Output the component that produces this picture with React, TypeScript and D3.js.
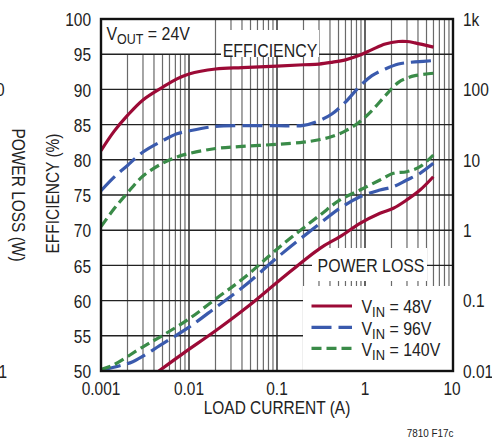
import React from "react";
import * as d3 from "d3";

const effCurrent = [0.001, 0.0014, 0.002, 0.003, 0.005, 0.0073, 0.01, 0.02, 0.04, 0.1, 0.2, 0.3, 0.42, 0.6, 0.85, 1.2, 1.7, 2.4, 3, 3.7, 6];
const eff48 = [81.3, 84.0, 86.3, 88.5, 90.3, 91.5, 92.2, 92.9, 93.1, 93.3, 93.5, 93.6, 93.85, 94.2, 94.8, 95.65, 96.45, 96.8, 96.8, 96.6, 96.0];
const eff96 = [75.6, 77.5, 79.2, 81.1, 82.7, 83.7, 84.1, 84.75, 84.85, 84.85, 84.9, 85.55, 86.5, 88.2, 90.3, 91.95, 92.9, 93.6, 93.8, 93.9, 94.1];
const eff140 = [70.5, 73.0, 75.3, 77.7, 79.5, 80.4, 80.9, 81.6, 81.9, 82.2, 82.5, 82.85, 83.3, 84.1, 85.3, 87.0, 89.1, 91.0, 91.6, 91.95, 92.3];

const loss48Current = [0.0045, 0.0086, 0.0206, 0.049, 0.108, 0.308, 0.52, 0.877, 1.48, 2.1, 2.98, 4.22, 5.97];
const loss48 = [0.0099, 0.0178, 0.0382, 0.0866, 0.196, 0.553, 0.81, 1.25, 1.74, 2.05, 2.69, 3.72, 5.75];
const loss96Current = [0.001, 0.0016, 0.0023, 0.0051, 0.0102, 0.0206, 0.0415, 0.108, 0.308, 0.52, 0.877, 1.48, 2.1, 2.98, 4.22, 5.97];
const loss96 = [0.0103, 0.0118, 0.01355, 0.0247, 0.0426, 0.0818, 0.157, 0.44, 1.25, 2.05, 2.99, 3.72, 4.15, 5.16, 6.43, 8.9];
const loss140Current = [0.001, 0.00138, 0.003, 0.0051, 0.0102, 0.0206, 0.0415, 0.108, 0.308, 0.52, 0.877, 1.48, 2.1, 2.98, 4.22, 5.97];
const loss140 = [0.0105, 0.01216, 0.0221, 0.0324, 0.056, 0.108, 0.207, 0.583, 1.64, 2.69, 3.72, 5.16, 6.43, 6.78, 7.98, 11.7];

const xTicks = [0.001, 0.01, 0.1, 1, 10];
const xTickLabels = ["0.001", "0.01", "0.1", "1", "10"];
const effTicks = [50, 55, 60, 65, 70, 75, 80, 85, 90, 95, 100];
const lossTicks = [0.01, 0.1, 1, 10, 100, 1000];
const lossTickLabels = ["0.01", "0.1", "1", "10", "100", "1k"];
const seriesNames = ["48V", "96V", "140V"];

const COLORS = ["#9c0a36", "#3a5aad", "#3a8b48"];
const DASHES = ["none", "20 7", "10 5"];
const FONT = "'Liberation Sans', Arial, sans-serif";
const TXT = "#222";
const SX = 0.86;

function T(props: { x: number; y: number; size?: number; anchor?: string; rot?: number; children: React.ReactNode }) {
  const { x, y, size = 18, anchor = "start", rot = 0, children } = props;
  return (
    <text
      transform={`translate(${x},${y}) rotate(${rot}) scale(${SX},1)`}
      fontSize={size}
      fill={TXT}
      textAnchor={anchor}
    >
      {children}
    </text>
  );
}

export default function App() {
  const W = 492, H = 439;
  const L = 101, R = 453, Tp = 19, B = 371;
  const x = d3.scaleLog().domain([0.001, 10]).range([L, R]);
  const yE = d3.scaleLinear().domain([50, 100]).range([B, Tp]);
  const yP = d3.scaleLog().domain([0.01, 1000]).range([B, Tp]);

  const minor: number[] = [];
  for (let d = 0.001; d < 10; d *= 10) {
    for (let k = 2; k <= 9; k++) minor.push(d * k);
  }

  const lineGen = d3.line<[number, number]>().x(d => d[0]).y(d => d[1]).curve(d3.curveCatmullRom.alpha(0.5));
  const effPath = (vals: number[]) => lineGen(effCurrent.map((c, i) => [x(c), yE(vals[i])] as [number, number])) || "";
  const lossPath = (cur: number[], vals: number[]) => lineGen(cur.map((c, i) => [x(c), yP(vals[i])] as [number, number])) || "";

  const effSeries = [eff48, eff96, eff140];
  const lossSeries: [number[], number[]][] = [[loss48Current, loss48], [loss96Current, loss96], [loss140Current, loss140]];

  const legY = [306, 327.3, 348.3];

  return (
    <svg width={W} height={H} style={{ position: "absolute", left: 0, top: 0, background: "#fff" }} fontFamily={FONT}>
      <defs>
        <clipPath id="plotclip">
          <rect x={L} y={Tp} width={R - L} height={B - Tp} />
        </clipPath>
      </defs>
      <rect x={0} y={0} width={W} height={H} fill="#fff" />
      {minor.map((m, i) => (
        <line key={"mv" + i} x1={x(m)} x2={x(m)} y1={Tp} y2={B} stroke="#6a6a6a" strokeWidth={1.2} />
      ))}
      {xTicks.map((t, i) => (
        <line key={"dv" + i} x1={x(t)} x2={x(t)} y1={Tp} y2={B} stroke="#222" strokeWidth={1.4} />
      ))}
      {effTicks.map((t, i) => (
        <line key={"hg" + i} x1={L} x2={R} y1={yE(t)} y2={yE(t)} stroke="#222" strokeWidth={1.4} />
      ))}

      <rect x={L + 1} y={Tp + 1} width={112} height={34} fill="#fff" />
      <line x1={L} x2={215} y1={yE(95)} y2={yE(95)} stroke="#222" strokeWidth={1.4} />
      <rect x={221} y={30} width={98} height={27} fill="#fff" />
      <rect x={312} y={248} width={115} height={33} fill="#fff" />
      <rect x={303} y={286} width={R - 303} height={B - 286} fill="#fff" />

      <g clipPath="url(#plotclip)" fill="none" strokeWidth={3.2}>
        {effSeries.map((s, i) => (
          <path key={"e" + i} d={effPath(s)} stroke={COLORS[i]} strokeDasharray={DASHES[i]} />
        ))}
        {lossSeries.map((s, i) => (
          <path key={"p" + i} d={lossPath(s[0], s[1])} stroke={COLORS[i]} strokeDasharray={DASHES[i]} />
        ))}
      </g>

      <rect x={L} y={Tp} width={R - L} height={B - Tp} fill="none" stroke="#111" strokeWidth={2.4} />

      <T x={106.5} y={40} size={18.5}>
        V<tspan fontSize={14.5} dy={3.5}>OUT</tspan><tspan dy={-3.5}> = 24V</tspan>
      </T>
      <T x={270} y={56.5} size={18.5} anchor="middle">EFFICIENCY</T>
      <T x={371} y={271.5} size={18.5} anchor="middle">POWER LOSS</T>

      {seriesNames.map((n, i) => (
        <g key={"lg" + i}>
          <line x1={311.5} x2={352} y1={legY[i]} y2={legY[i]} stroke={COLORS[i]} strokeWidth={3.2} strokeDasharray={DASHES[i]} />
          <T x={361.5} y={legY[i] + 7.2} size={18.5}>
            V<tspan fontSize={15} dy={4}>IN</tspan><tspan dy={-4}> = {n}</tspan>
          </T>
        </g>
      ))}

      {effTicks.map((t, i) => (
        <T key={"el" + i} x={91} y={yE(t) + 7.2} anchor="end">{t}</T>
      ))}
      {lossTicks.map((t, i) => (
        <T key={"rl" + i} x={463} y={yP(t) + 6.8}>{lossTickLabels[i]}</T>
      ))}
      {xTicks.map((t, i) => (
        <T key={"bl" + i} x={i === 4 ? x(t) - 1 : x(t)} y={395} anchor="middle">{xTickLabels[i]}</T>
      ))}

      <T x={277} y={414} anchor="middle">LOAD CURRENT (A)</T>
      <T x={59} y={193.5} rot={-90} anchor="middle">EFFICIENCY (%)</T>
      <T x={12} y={195} rot={90} anchor="middle">POWER LOSS (W)</T>

      <T x={4.5} y={96} anchor="end">100</T>
      <T x={7} y={377.5} anchor="end">0.1</T>

      <T x={430} y={436.5} size={11.5} anchor="middle">7810 F17c</T>
    </svg>
  );
}
